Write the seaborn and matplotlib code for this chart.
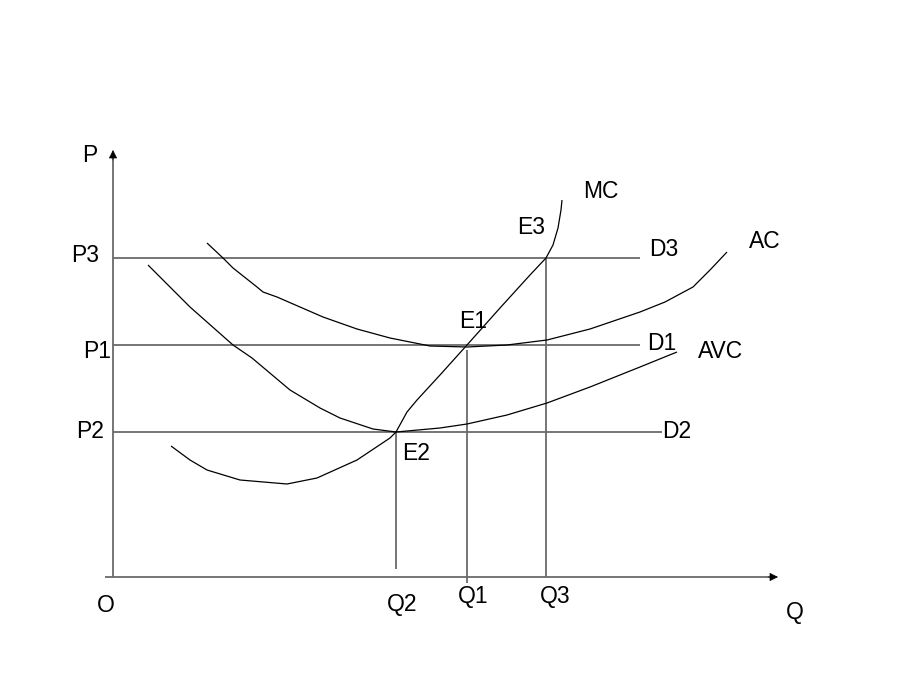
import matplotlib
matplotlib.use("Agg")
import matplotlib.pyplot as plt
import seaborn as sns
import pandas as pd

sns.set_style("white")
plt.rcParams['font.family'] = ['Liberation Sans', 'DejaVu Sans']

# ---- data (Q, P units; origin at O) ----
mc_q = [58, 77, 94, 127, 174, 204, 244, 277, 283, 294, 304, 327, 354, 387, 417, 433, 440, 445, 448, 449]
mc_p = [131, 117, 107, 97, 93, 99, 117, 139, 145, 165, 177, 202, 232, 269, 302, 319, 332, 349, 367, 377]

avc_q = [35, 77, 120, 139, 177, 207, 227, 260, 283, 327, 354, 394, 434, 477, 527, 564]
avc_p = [312, 270, 232, 219, 187, 169, 159, 148, 145, 149, 153, 162, 174, 190, 210, 225]

ac_q = [94, 110, 120, 144, 150, 164, 210, 244, 277, 317, 354, 394, 434, 477, 527, 552, 580, 597, 614]
ac_p = [334, 319, 309, 290, 285, 280, 260, 248, 239, 231, 230, 232, 237, 248, 265, 275, 290, 307, 325]

price_names = ["P3", "P1", "P2"]
price_vals = [319, 232, 145]
demand_names = ["D3", "D1", "D2"]
demand_end = [527, 527, 549]

qty_names = ["Q2", "Q1", "Q3"]
qty_vals = [283, 354, 433]
qty_top = [145, 227, 319]
qty_bottom = [8, -6, 0]

y_axis_top = 427
x_axis_end = 665

# ---- figure ----
fig = plt.figure(figsize=(9.2, 6.9), dpi=100)
ax = fig.add_axes([0, 0, 1, 1])
ax.set_xlim(-113, 807)
ax.set_ylim(-113, 577)
ax.axis("off")

gray = "#6a6a6a"

def line(xs, ys, color, lw):
    df = pd.DataFrame({"x": xs, "y": ys})
    sns.lineplot(data=df, x="x", y="y", sort=False, estimator=None,
                 color=color, lw=lw, ax=ax, solid_joinstyle="round",
                 solid_capstyle="butt")

# axes
line([0, 0], [0, y_axis_top - 6], gray, 1.3)
line([-8, x_axis_end - 6], [0, 0], gray, 1.3)
ax.annotate("", xy=(0, y_axis_top), xytext=(0, y_axis_top - 10),
            arrowprops=dict(arrowstyle="-|>", color="black", lw=0.5,
                            mutation_scale=13, shrinkA=0, shrinkB=0))
ax.annotate("", xy=(x_axis_end, 0), xytext=(x_axis_end - 10, 0),
            arrowprops=dict(arrowstyle="-|>", color="black", lw=0.5,
                            mutation_scale=13, shrinkA=0, shrinkB=0))

# price / demand lines
for p, e in zip(price_vals, demand_end):
    line([0, e], [p, p], gray, 1.3)

# quantity drop lines
for q, t, b in zip(qty_vals, qty_top, qty_bottom):
    line([q, q], [t, b], gray, 1.3)

# cost curves
line(mc_q, mc_p, "black", 0.9)
line(avc_q, avc_p, "black", 0.9)
line(ac_q, ac_p, "black", 0.9)

# labels
fs = 16.5
labels = [
    ("P", -23, 421), ("P3", -28, 321), ("P1", -16, 225), ("P2", -23, 145),
    ("O", -7, -28), ("Q2", 289, -27), ("Q1", 360, -20), ("Q3", 442, -20),
    ("Q", 682, -35),
    ("MC", 488, 385), ("E3", 418, 349), ("E1", 360, 255), ("E2", 303, 124),
    ("D3", 551, 327), ("D1", 549, 234), ("D2", 564, 145),
    ("AC", 652, 335), ("AVC", 608, 225),
]
for txt, x, y in labels:
    ax.text(x, y, txt, fontsize=fs, ha="center", va="center", color="black")

fig.savefig("out.png", dpi=100)
